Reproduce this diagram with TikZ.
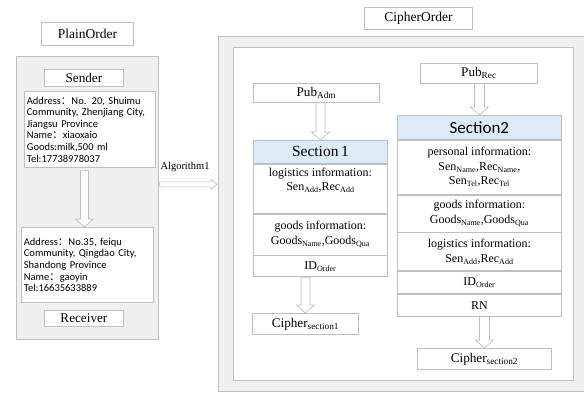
\documentclass[tikz,border=0pt]{standalone}
\usepackage{fontspec}
\setmainfont{Liberation Serif}
\newfontfamily\serifont{Liberation Serif}
\newfontfamily\calfont{Carlito}
\newfontfamily\cjkfont{Noto Sans CJK SC}
\usetikzlibrary{calc}

\definecolor{edgegray}{HTML}{BFBFBF}
\definecolor{panelgray}{HTML}{F0F0F0}
\definecolor{headblue}{HTML}{DDEBF7}

\newcommand\sbs[1]{\textsubscript{#1}}
\newcommand\fcolon{{\cjkfont ：}}

% hollow block arrow pointing down: from, to, dx, start gap, shaft half width, head half width
\newcommand\blockdown[6]{%
  \draw[hollow] let \p1=($(#1.south -| #2.north)+(#3,#4)$), \p2=($(#2.north)+(#3,0)$) in
    (\x1-#5,\y1) -- (\x1-#5,\y2+8pt) -- (\x1-#6,\y2+8pt) -- (\x1,\y2)
    -- (\x1+#6,\y2+8pt) -- (\x1+#5,\y2+8pt) -- (\x1+#5,\y1) -- cycle;}

\tikzset{
  hollow/.style={draw=edgegray, fill=white, line width=0.7pt, line join=miter},
  box/.style={draw=edgegray, fill=white, line width=0.8pt, inner sep=0pt,
    anchor=north west, align=center},
  panel/.style={box, fill=panelgray},
  title/.style={box, font=\serifont\fontsize{13.5}{15}\selectfont},
  label/.style={box, font=\serifont\fontsize{13.2}{15}\selectfont},
  serif/.style={font=\serifont\fontsize{12}{14.5}\selectfont},
  info/.style={box, align=left, inner xsep=2.5pt, inner ysep=0pt,
    font=\calfont\fontsize{10.5}{11.6}\selectfont},
  row/.style={box, serif},
}

\begin{document}
\begin{tikzpicture}[x=1pt, y=-1pt]
\useasboundingbox (0,0) rectangle (584,395);

% ---- plain order side ----
\node[title, minimum width=92, minimum height=23] (plaintitle) at (41,22) {PlainOrder};
\node[panel, minimum width=142, minimum height=283] (plainpanel) at (16,56) {};
\node[label, minimum width=79, minimum height=17] (senderlab) at (44,69) {Sender};
\node[info, text width=126, minimum height=76] (senderinfo) at (24,91)
  {Address\fcolon No. 20, Shuimu\\Community, Zhenjiang City,\\Jiangsu Province\\Name\fcolon xiaoxaio\\Goods:milk,500 ml\\Tel:17738978037};
\node[info, text width=127, minimum height=75] (receiverinfo) at (21,227)
  {Address\fcolon No.35, feiqu\\Community, Qingdao City,\\Shandong Province\\Name\fcolon gaoyin\\Tel:16635633889};
\node[label, minimum width=79, minimum height=16] (receiverlab) at (44,310) {Receiver};
\blockdown{senderinfo}{receiverinfo}{-3}{3}{4pt}{9pt}

% ---- cipher order side ----
\node[title, minimum width=108, minimum height=22] (ciphertitle) at (364,7) {CipherOrder};
\node[panel, minimum width=380, minimum height=355] (outerpanel) at (218,36) {};
\node[box, minimum width=340, minimum height=333] (innerpanel) at (233,47) {};

% algorithm arrow between the two panels
\node[font=\serifont\fontsize{10.5}{12}\selectfont] (algolab) at (185,167) {Algorithm1};
\draw[hollow] let \p1=($(plainpanel.east)+(1,-13.5)$), \p2=($(outerpanel.west)+(-1,0)$) in
  (\x1,\y1+2.5pt) -- (\x2-6pt,\y1+2.5pt) -- (\x2-6pt,\y1+5pt) -- (\x2,\y1)
  -- (\x2-6pt,\y1-5pt) -- (\x2-6pt,\y1-2.5pt) -- (\x1,\y1-2.5pt) -- cycle;

% section 1
\node[label, minimum width=126, minimum height=19] (pubadm) at (253,83) {Pub\sbs{Adm}};
\node[box, fill=headblue, minimum width=134, minimum height=23,
  font=\serifont\fontsize{15.5}{17}\selectfont] (sa0) at (253,140) {Section\kern2.5pt1};
\node[row, minimum width=134, minimum height=49] (sa1) at (sa0.south west) {};
\node[serif, align=center, anchor=north, inner sep=0pt] (sa1text) at ($(sa1.north)+(0,4)$)
  {logistics information:\\Sen\sbs{Add},Rec\sbs{Add}};
\node[row, minimum width=134, minimum height=41] (sa2) at (sa1.south west)
  {goods information:\\Goods\sbs{Name},Goods\sbs{Qua}};
\node[row, minimum width=134, minimum height=21] (sa3) at (sa2.south west) {ID\sbs{Order}};
\node[label, minimum width=106, minimum height=21] (cipher1) at (252,313) {Cipher\sbs{section1}};
\blockdown{pubadm}{sa0}{0}{0}{4.5pt}{9pt}
\blockdown{sa3}{cipher1}{0}{0}{4.5pt}{9pt}

% section 2
\node[label, minimum width=117, minimum height=20] (pubrec) at (420,63) {Pub\sbs{Rec}};
\node[box, fill=headblue, minimum width=164, minimum height=24,
  font=\calfont\fontsize{17}{19}\selectfont] (sb0) at (397,115) {Section2};
\node[row, minimum width=164, minimum height=54] (sb1) at (sb0.south west)
  {personal information:\\Sen\sbs{Name},Rec\sbs{Name},\\Sen\sbs{Tel},Rec\sbs{Tel}};
\node[row, minimum width=164, minimum height=37] (sb2) at (sb1.south west)
  {goods information:\\Goods\sbs{Name},Goods\sbs{Qua}};
\node[row, minimum width=164, minimum height=38] (sb3) at (sb2.south west)
  {logistics information:\\Sen\sbs{Add},Rec\sbs{Add}};
\node[row, minimum width=164, minimum height=22] (sb4) at (sb3.south west) {ID\sbs{Order}};
\node[row, minimum width=164, minimum height=22] (sb5) at (sb4.south west) {RN};
\node[label, minimum width=134, minimum height=21] (cipher2) at (417,348) {Cipher\sbs{section2}};
\blockdown{pubrec}{sb0}{0}{0}{5pt}{9pt}
\blockdown{sb5}{cipher2}{0}{0}{5pt}{9pt}
\end{tikzpicture}
\end{document}
